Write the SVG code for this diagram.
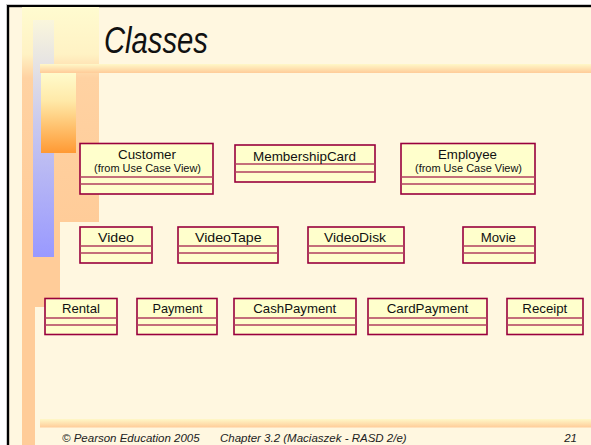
<svg xmlns="http://www.w3.org/2000/svg" width="591" height="445" viewBox="0 0 591 445">
  <style>
    .box { fill: #FFFFCC; stroke: #99003D; stroke-width: 1.6; }
    .sep { stroke: #B0405E; stroke-width: 1.3; }
    .name { font-family: "Liberation Sans", Arial, sans-serif; font-size: 13.5px; text-anchor: middle; fill: #111; }
    .pkg { font-family: "Liberation Sans", Arial, sans-serif; font-size: 10.5px; text-anchor: middle; fill: #111; }
    .foot { font-family: "Liberation Sans", Arial, sans-serif; font-size: 11.5px; font-style: italic; fill: #222; }
  </style>
  <defs>
    <linearGradient id="gPeach" x1="0" y1="0" x2="0" y2="1">
      <stop offset="0" stop-color="#FFFBD0"/>
      <stop offset="0.22" stop-color="#FFF2C4"/>
      <stop offset="0.33" stop-color="#FFD2A2"/>
      <stop offset="1" stop-color="#FFCC99"/>
    </linearGradient>
    <linearGradient id="gBlue" x1="0" y1="0" x2="0" y2="1">
      <stop offset="0" stop-color="#FAF6DC"/>
      <stop offset="0.45" stop-color="#C8C8EE"/>
      <stop offset="1" stop-color="#9999FF"/>
    </linearGradient>
    <linearGradient id="gOrange" x1="0" y1="0" x2="0" y2="1">
      <stop offset="0" stop-color="#FFFBCC"/>
      <stop offset="0.35" stop-color="#FFE9A8"/>
      <stop offset="1" stop-color="#FF9933"/>
    </linearGradient>
    <linearGradient id="gBar" x1="0" y1="0" x2="0" y2="1">
      <stop offset="0" stop-color="#FFF8C8"/>
      <stop offset="1" stop-color="#FFCC99"/>
    </linearGradient>
  </defs>

  <!-- page and frame -->
  <rect x="0" y="0" width="591" height="445" fill="#FFFFFF"/>
  <rect x="7" y="5" width="584" height="440" fill="#FFF7E0"/>
  <rect x="6" y="4" width="585" height="1" fill="#C8C8C8"/>
  <rect x="7" y="5" width="584" height="2.2" fill="#000000"/>
  <rect x="6" y="5" width="1" height="440" fill="#C8C8C8"/>
  <rect x="7" y="5" width="2.2" height="440" fill="#000000"/>

  <!-- side decoration -->
  <rect x="22" y="7" width="77" height="215" fill="url(#gPeach)"/>
  <rect x="22" y="222" width="38" height="85" fill="#FFCC99"/>
  <rect x="22" y="307" width="13" height="138" fill="#FFCC99"/>
  <rect x="33" y="20" width="21" height="237" fill="url(#gBlue)"/>
  <rect x="40" y="64" width="551" height="9" fill="url(#gBar)"/>
  <rect x="41" y="73" width="35" height="80" fill="url(#gOrange)"/>
  <rect x="40" y="419" width="551" height="8.5" fill="url(#gBar)"/>

  <!-- title -->
  <text x="104" y="53" font-family="'Liberation Sans', Arial, sans-serif" font-size="36" font-style="italic" fill="#111" textLength="104" lengthAdjust="spacingAndGlyphs">Classes</text>

  <!-- classes -->
  <g id="customer">
    <rect class="box" x="80" y="143.5" width="133" height="50.5"/>
    <line class="sep" x1="80" y1="177" x2="213" y2="177"/>
    <line class="sep" x1="80" y1="184" x2="213" y2="184"/>
    <text class="name" x="147" y="159" textLength="58" lengthAdjust="spacingAndGlyphs">Customer</text>
    <text class="pkg" x="147.5" y="172" textLength="107" lengthAdjust="spacingAndGlyphs">(from Use Case View)</text>
  </g>
  <g id="membershipCard">
    <rect class="box" x="235" y="145" width="140" height="37"/>
    <line class="sep" x1="235" y1="164" x2="375" y2="164"/>
    <line class="sep" x1="235" y1="172" x2="375" y2="172"/>
    <text class="name" x="304.5" y="161" textLength="103" lengthAdjust="spacingAndGlyphs">MembershipCard</text>
  </g>
  <g id="employee">
    <rect class="box" x="401" y="143.5" width="134" height="50.5"/>
    <line class="sep" x1="401" y1="177" x2="535" y2="177"/>
    <line class="sep" x1="401" y1="184" x2="535" y2="184"/>
    <text class="name" x="467.5" y="159" textLength="59" lengthAdjust="spacingAndGlyphs">Employee</text>
    <text class="pkg" x="468.5" y="172" textLength="107" lengthAdjust="spacingAndGlyphs">(from Use Case View)</text>
  </g>

  <g id="video">
    <rect class="box" x="80" y="227" width="72" height="36"/>
    <line class="sep" x1="80" y1="246" x2="152" y2="246"/>
    <line class="sep" x1="80" y1="253" x2="152" y2="253"/>
    <text class="name" x="116" y="242" textLength="36" lengthAdjust="spacingAndGlyphs">Video</text>
  </g>
  <g id="videoTape">
    <rect class="box" x="178" y="227" width="100" height="36"/>
    <line class="sep" x1="178" y1="246" x2="278" y2="246"/>
    <line class="sep" x1="178" y1="253" x2="278" y2="253"/>
    <text class="name" x="228.3" y="242" textLength="66.7" lengthAdjust="spacingAndGlyphs">VideoTape</text>
  </g>
  <g id="videoDisk">
    <rect class="box" x="308" y="227" width="96" height="36"/>
    <line class="sep" x1="308" y1="246" x2="404" y2="246"/>
    <line class="sep" x1="308" y1="253" x2="404" y2="253"/>
    <text class="name" x="355" y="242" textLength="62" lengthAdjust="spacingAndGlyphs">VideoDisk</text>
  </g>
  <g id="movie">
    <rect class="box" x="463" y="227" width="72" height="36"/>
    <line class="sep" x1="463" y1="246" x2="535" y2="246"/>
    <line class="sep" x1="463" y1="253" x2="535" y2="253"/>
    <text class="name" x="498.3" y="242" textLength="35.3" lengthAdjust="spacingAndGlyphs">Movie</text>
  </g>

  <g id="rental">
    <rect class="box" x="45" y="298.5" width="72" height="36"/>
    <line class="sep" x1="45" y1="318" x2="117" y2="318"/>
    <line class="sep" x1="45" y1="325" x2="117" y2="325"/>
    <text class="name" x="81" y="313" textLength="38" lengthAdjust="spacingAndGlyphs">Rental</text>
  </g>
  <g id="payment">
    <rect class="box" x="137" y="298.5" width="80" height="36"/>
    <line class="sep" x1="137" y1="318" x2="217" y2="318"/>
    <line class="sep" x1="137" y1="325" x2="217" y2="325"/>
    <text class="name" x="177.5" y="313" textLength="50" lengthAdjust="spacingAndGlyphs">Payment</text>
  </g>
  <g id="cashPayment">
    <rect class="box" x="234" y="298.5" width="122" height="36"/>
    <line class="sep" x1="234" y1="318" x2="356" y2="318"/>
    <line class="sep" x1="234" y1="325" x2="356" y2="325"/>
    <text class="name" x="294.8" y="313" textLength="83" lengthAdjust="spacingAndGlyphs">CashPayment</text>
  </g>
  <g id="cardPayment">
    <rect class="box" x="368" y="298.5" width="119" height="36"/>
    <line class="sep" x1="368" y1="318" x2="487" y2="318"/>
    <line class="sep" x1="368" y1="325" x2="487" y2="325"/>
    <text class="name" x="427.5" y="313" textLength="81.6" lengthAdjust="spacingAndGlyphs">CardPayment</text>
  </g>
  <g id="receipt">
    <rect class="box" x="507" y="298.5" width="76" height="36"/>
    <line class="sep" x1="507" y1="318" x2="583" y2="318"/>
    <line class="sep" x1="507" y1="325" x2="583" y2="325"/>
    <text class="name" x="544.8" y="313" textLength="45" lengthAdjust="spacingAndGlyphs">Receipt</text>
  </g>

  <g id="connectors"/>

  <!-- footer -->
  <text class="foot" x="62" y="442">© Pearson Education 2005</text>
  <text class="foot" x="220" y="442">Chapter 3.2 (Maciaszek - RASD 2/e)</text>
  <text class="foot" x="577" y="442" text-anchor="end">21</text>
</svg>
